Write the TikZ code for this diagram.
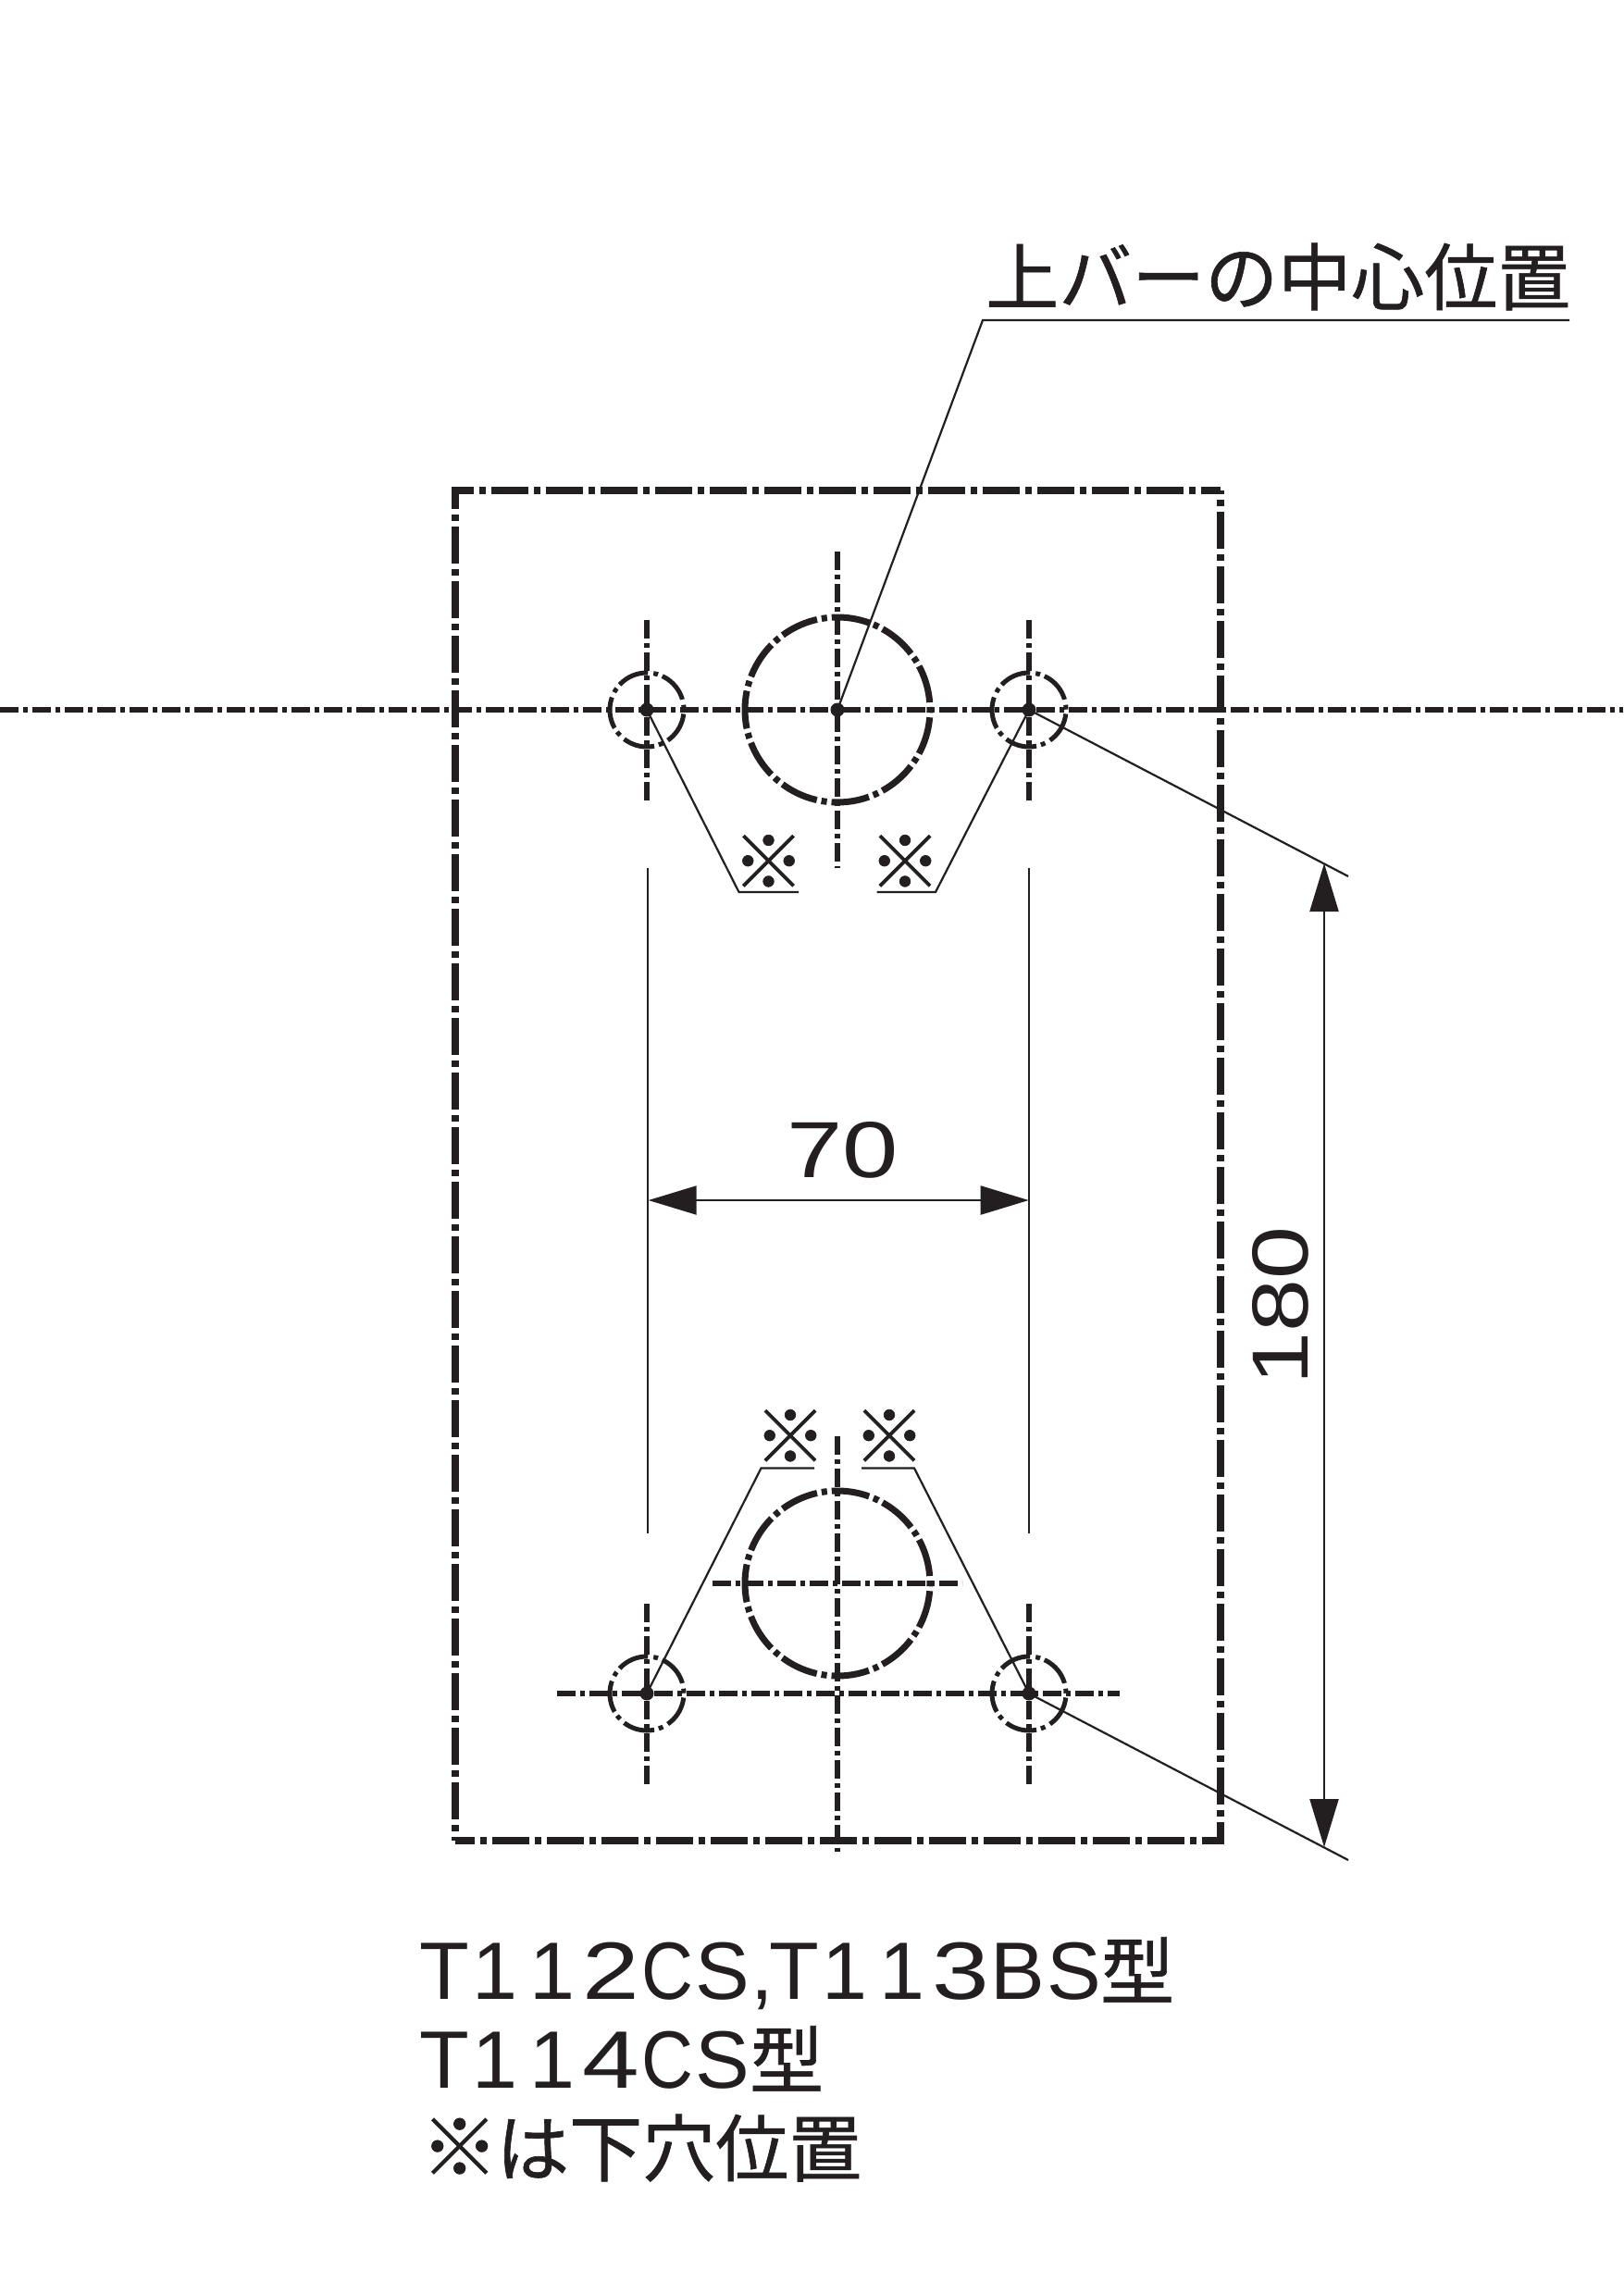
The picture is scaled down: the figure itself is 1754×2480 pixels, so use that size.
\documentclass[tikz,border=0pt]{standalone}
\usepackage{fontspec}
\usetikzlibrary{arrows.meta}
\setmainfont{Liberation Sans}
\newfontfamily\cjk[FakeBold=0.8]{Noto Sans CJK JP}
\newfontfamily\dig[FakeStretch=1.26]{Liberation Sans}
\newfontfamily\digb[FakeStretch=1.19]{Liberation Sans}
\newfontfamily\narr[FakeStretch=0.88]{Liberation Sans}
\definecolor{ink}{HTML}{231F20}
\makeatletter
\newcommand\defcell[3]{\expandafter\def\csname cell@#1\endcsname{\hbox to #2pt{\hss#3\hss}}}
\newcommand\spread[1]{\@tfor\sp@c:=#1\do{\csname cell@\sp@c\endcsname}}
\makeatother
\defcell{T}{47}{T}
\defcell{1}{62}{1}
\defcell{2}{64}{\dig 2}
\defcell{3}{64}{\dig 3}
\defcell{4}{64}{\dig 4}
\defcell{C}{58}{\narr C}
\defcell{S}{62}{S}
\defcell{B}{60}{B}
\defcell{,}{23}{,}
\tikzset{
  thinl/.style={draw=ink,line width=2.2pt},
  frameline/.style={draw=ink,line width=7.5pt,dash pattern=on 40pt off 6pt on 7pt off 6pt,dash phase=16pt},
  cline/.style={draw=ink,line width=5.5pt,dash pattern=on 20pt off 5pt on 5pt off 5pt},
  bighole/.style={circle,draw=ink,line width=7pt,inner sep=0pt,minimum size=200pt,dash pattern=on 41.1pt off 5pt on 6pt off 5pt,dash phase=49.1pt},
  smallhole/.style={circle,draw=ink,line width=5pt,inner sep=0pt,minimum size=80pt,dash pattern=on 34.3pt off 5pt on 5pt off 6pt,dash phase=39pt},
  cdot/.style={circle,fill=ink,inner sep=0pt,minimum size=15pt},
  kome/.style={inner sep=0pt,text=ink,font=\fontsize{78}{78}\selectfont\cjk},
  bigt/.style={inner sep=0pt,text=ink,font=\fontsize{86}{86}\selectfont},
  jp/.style={inner sep=0pt,text=ink,anchor=base west,font=\fontsize{79}{79}\selectfont\cjk},
  dimarrow/.style={thinl,{Triangle[length=52pt,width=31pt]}-{Triangle[length=52pt,width=31pt]}}
}
\begin{document}
\begin{tikzpicture}[x=1pt,y=-1pt]
\useasboundingbox (0,0) rectangle (1754,2480);
% frame: each side runs from a corner
\coordinate (ftl) at (492,530);
\coordinate (ftlx) at (488.25,530);
\coordinate (ftly) at (492,526.25);
\coordinate (ftr) at (1319,530);
\coordinate (fbl) at (492,1989);
\coordinate (fbrx) at (1322.75,1989);
\coordinate (fbry) at (1319,1992.75);
\draw[frameline] (ftlx) -- (ftr);
\draw[frameline] (ftly) -- (fbl);
\draw[frameline] (fbrx) -- (fbl);
\draw[frameline] (fbry) -- (ftr);
% centre lines upper
\coordinate (hl) at (0,767); \coordinate (hr) at (1754,767);
\draw[cline] (hl) -- (hr);
\coordinate (vu1) at (905,596); \coordinate (vu2) at (905,938);
\draw[cline] (vu1) -- (vu2);
\coordinate (vl1) at (699,670); \coordinate (vl2) at (699,865);
\draw[cline] (vl1) -- (vl2);
\coordinate (vr1) at (1112,670); \coordinate (vr2) at (1112,865);
\draw[cline] (vr1) -- (vr2);
% centre lines lower
\coordinate (wl) at (602,1830); \coordinate (wr) at (1210,1830);
\draw[cline] (wl) -- (wr);
\coordinate (xl) at (770,1711); \coordinate (xr) at (1040,1711);
\draw[cline,line width=6.5pt] (xl) -- (xr);
\coordinate (xu) at (905,1552); \coordinate (xd) at (905,2001);
\draw[cline,line width=6pt] (xu) -- (xd);
\coordinate (yl1) at (699,1733); \coordinate (yl2) at (699,1928);
\draw[cline] (yl1) -- (yl2);
\coordinate (yr1) at (1112,1733); \coordinate (yr2) at (1112,1928);
\draw[cline] (yr1) -- (yr2);
% holes
\node[bighole] (bu) at (905,767) {};
\node[bighole] (bd) at (905,1711) {};
\node[smallhole] (sul) at (699,767) {};
\node[smallhole] (sur) at (1112,767) {};
\node[smallhole] (sdl) at (699,1830) {};
\node[smallhole] (sdr) at (1112,1830) {};
\node[cdot] (cc) at (905,767) {};
\node[cdot] (cul) at (699,767) {};
\node[cdot] (cur) at (1112,767) {};
\node[cdot] (cdl) at (699,1830) {};
\node[cdot] (cdr) at (1112,1830) {};
% extension lines
\coordinate (el1) at (700,938); \coordinate (el2) at (700,1657);
\draw[thinl] (el1) -- (el2);
\coordinate (er1) at (1112,938); \coordinate (er2) at (1112,1657);
\draw[thinl] (er1) -- (er2);
% leaders
\coordinate (tk) at (1062,346); \coordinate (te) at (1696,346);
\draw[thinl] (cc.center) -- (tk) -- (te);
\coordinate (k1) at (798.5,964); \coordinate (k1e) at (863,964);
\draw[thinl] (cul.center) -- (k1) -- (k1e);
\coordinate (k2) at (1011,964); \coordinate (k2e) at (947.5,964);
\draw[thinl] (cur.center) -- (k2) -- (k2e);
\coordinate (k3) at (822.5,1586.5); \coordinate (k3e) at (880,1586.5);
\draw[thinl] (cdl.center) -- (k3) -- (k3e);
\coordinate (k4) at (988,1586.5); \coordinate (k4e) at (931,1586.5);
\draw[thinl] (cdr.center) -- (k4) -- (k4e);
\coordinate (d1) at (1457,947);
\draw[thinl] (cur.center) -- (d1);
\coordinate (d2) at (1457,2010);
\draw[thinl] (cdr.center) -- (d2);
% dimensions
\coordinate (a1) at (700.7,1297); \coordinate (a2) at (1111.7,1297);
\draw[dimarrow] (a1) -- (a2);
\coordinate (b1) at (1431,933); \coordinate (b2) at (1431,1996);
\draw[dimarrow] (b1) -- (b2);
\node[bigt] (t70) at (911,1243) {\dig 70};
\node[bigt,rotate=90] (t180) at (1384,1411) {\digb 180};
% marks
\node[kome] (m1) at (830.5,931) {※};
\node[kome] (m2) at (978,931) {※};
\node[kome] (m3) at (854,1552) {※};
\node[kome] (m4) at (961,1552) {※};
% texts
\node[jp] (title) at (1065,329) {上バーの中心位置};
\node[bigt,font=\fontsize{88}{88}\selectfont,anchor=base west] (l1) at (457,2160) {\spread{T112CS,T113BS}\kern-3pt{\fontsize{80}{80}\selectfont\cjk 型}};
\node[bigt,font=\fontsize{88}{88}\selectfont,anchor=base west] (l2) at (457,2256) {\spread{T114CS}\kern-2pt{\fontsize{80}{80}\selectfont\cjk 型}};
\node[jp,font=\fontsize{79}{79}\selectfont\cjk] (l3) at (457,2351) {\hbox to 79pt{\hss\fontsize{84}{84}\selectfont ※\hss}は下穴位置};
\end{tikzpicture}
\end{document}
